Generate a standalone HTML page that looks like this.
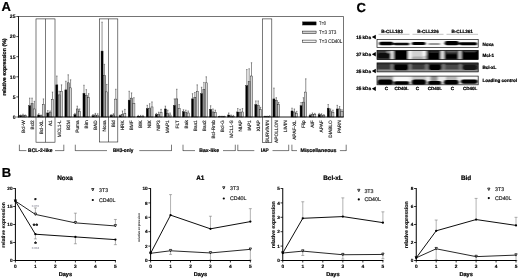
<!DOCTYPE html>
<html lang="en"><head><meta charset="utf-8"><title>Figure</title>
<style>
html,body{margin:0;padding:0;background:#fff;}
body{width:520px;height:280px;overflow:hidden;}
svg{display:block;font-family:'Liberation Sans', sans-serif;text-rendering:geometricPrecision;}
</style></head>
<body>
<svg width="520" height="280" viewBox="0 0 520 280" font-family="&quot;Liberation Sans&quot;, sans-serif">
<defs>
<filter id="blur1" x="-5%" y="-20%" width="110%" height="140%"><feGaussianBlur stdDeviation="1.0 0.75"/></filter>
</defs>
<rect x="0" y="0" width="520" height="280" fill="#fff"/>
<g>
<g id="panelA">
<text x="1.60" y="11.30" font-size="13" text-anchor="start" fill="#000" font-weight="bold" stroke="#000" stroke-width="0.22">A</text>
<rect x="36.00" y="18.90" width="19.00" height="123.30" fill="#fff" stroke="#222" stroke-width="0.6"/>
<line x1="45.50" y1="18.90" x2="45.50" y2="142.20" stroke="#222" stroke-width="0.6"/>
<rect x="99.60" y="18.90" width="18.20" height="123.10" fill="#fff" stroke="#222" stroke-width="0.6"/>
<line x1="108.50" y1="18.90" x2="108.50" y2="142.00" stroke="#222" stroke-width="0.6"/>
<rect x="262.30" y="18.90" width="9.50" height="123.40" fill="#fff" stroke="#222" stroke-width="0.6"/>
<line x1="18.50" y1="16.50" x2="343.50" y2="16.50" stroke="#000" stroke-width="0.55"/>
<line x1="343.50" y1="16.50" x2="343.50" y2="117.00" stroke="#000" stroke-width="0.55"/>
<line x1="20.65" y1="115.79" x2="20.65" y2="114.99" stroke="#333" stroke-width="0.55"/>
<line x1="19.95" y1="114.99" x2="21.35" y2="114.99" stroke="#333" stroke-width="0.5"/>
<rect x="19.62" y="115.79" width="2.05" height="1.21" fill="#000" stroke="#111" stroke-width="0.4"/>
<line x1="23.00" y1="115.39" x2="23.00" y2="114.19" stroke="#333" stroke-width="0.55"/>
<line x1="22.30" y1="114.19" x2="23.70" y2="114.19" stroke="#333" stroke-width="0.5"/>
<rect x="21.98" y="115.39" width="2.05" height="1.61" fill="#989898" stroke="#111" stroke-width="0.4"/>
<line x1="25.35" y1="115.79" x2="25.35" y2="114.99" stroke="#333" stroke-width="0.55"/>
<line x1="24.65" y1="114.99" x2="26.05" y2="114.99" stroke="#333" stroke-width="0.5"/>
<rect x="24.32" y="115.79" width="2.05" height="1.21" fill="#d4d4d4" stroke="#111" stroke-width="0.4"/>
<line x1="29.70" y1="105.74" x2="29.70" y2="98.11" stroke="#333" stroke-width="0.55"/>
<line x1="29.00" y1="98.11" x2="30.40" y2="98.11" stroke="#333" stroke-width="0.5"/>
<rect x="28.67" y="105.74" width="2.05" height="11.26" fill="#000" stroke="#111" stroke-width="0.4"/>
<line x1="32.05" y1="103.73" x2="32.05" y2="98.11" stroke="#333" stroke-width="0.55"/>
<line x1="31.35" y1="98.11" x2="32.75" y2="98.11" stroke="#333" stroke-width="0.5"/>
<rect x="31.02" y="103.73" width="2.05" height="13.27" fill="#989898" stroke="#111" stroke-width="0.4"/>
<line x1="34.40" y1="108.96" x2="34.40" y2="101.32" stroke="#333" stroke-width="0.55"/>
<line x1="33.70" y1="101.32" x2="35.10" y2="101.32" stroke="#333" stroke-width="0.5"/>
<rect x="33.37" y="108.96" width="2.05" height="8.04" fill="#d4d4d4" stroke="#111" stroke-width="0.4"/>
<line x1="38.74" y1="114.99" x2="38.74" y2="113.78" stroke="#333" stroke-width="0.55"/>
<line x1="38.04" y1="113.78" x2="39.44" y2="113.78" stroke="#333" stroke-width="0.5"/>
<rect x="37.72" y="114.99" width="2.05" height="2.01" fill="#000" stroke="#111" stroke-width="0.4"/>
<line x1="41.09" y1="115.79" x2="41.09" y2="114.99" stroke="#333" stroke-width="0.55"/>
<line x1="40.39" y1="114.99" x2="41.79" y2="114.99" stroke="#333" stroke-width="0.5"/>
<rect x="40.07" y="115.79" width="2.05" height="1.21" fill="#989898" stroke="#111" stroke-width="0.4"/>
<line x1="43.44" y1="104.54" x2="43.44" y2="98.91" stroke="#333" stroke-width="0.55"/>
<line x1="42.74" y1="98.91" x2="44.14" y2="98.91" stroke="#333" stroke-width="0.5"/>
<rect x="42.42" y="104.54" width="2.05" height="12.46" fill="#d4d4d4" stroke="#111" stroke-width="0.4"/>
<line x1="47.79" y1="112.98" x2="47.79" y2="110.57" stroke="#333" stroke-width="0.55"/>
<line x1="47.09" y1="110.57" x2="48.49" y2="110.57" stroke="#333" stroke-width="0.5"/>
<rect x="46.76" y="112.98" width="2.05" height="4.02" fill="#000" stroke="#111" stroke-width="0.4"/>
<line x1="50.14" y1="112.58" x2="50.14" y2="110.97" stroke="#333" stroke-width="0.55"/>
<line x1="49.44" y1="110.97" x2="50.84" y2="110.97" stroke="#333" stroke-width="0.5"/>
<rect x="49.11" y="112.58" width="2.05" height="4.42" fill="#989898" stroke="#111" stroke-width="0.4"/>
<line x1="52.49" y1="99.31" x2="52.49" y2="92.08" stroke="#333" stroke-width="0.55"/>
<line x1="51.79" y1="92.08" x2="53.19" y2="92.08" stroke="#333" stroke-width="0.5"/>
<rect x="51.46" y="99.31" width="2.05" height="17.69" fill="#d4d4d4" stroke="#111" stroke-width="0.4"/>
<line x1="56.83" y1="84.84" x2="56.83" y2="76.00" stroke="#333" stroke-width="0.55"/>
<line x1="56.13" y1="76.00" x2="57.53" y2="76.00" stroke="#333" stroke-width="0.5"/>
<rect x="55.81" y="84.84" width="2.05" height="32.16" fill="#000" stroke="#111" stroke-width="0.4"/>
<line x1="59.18" y1="94.89" x2="59.18" y2="91.27" stroke="#333" stroke-width="0.55"/>
<line x1="58.48" y1="91.27" x2="59.88" y2="91.27" stroke="#333" stroke-width="0.5"/>
<rect x="58.16" y="94.89" width="2.05" height="22.11" fill="#989898" stroke="#111" stroke-width="0.4"/>
<line x1="61.53" y1="91.27" x2="61.53" y2="84.84" stroke="#333" stroke-width="0.55"/>
<line x1="60.83" y1="84.84" x2="62.23" y2="84.84" stroke="#333" stroke-width="0.5"/>
<rect x="60.51" y="91.27" width="2.05" height="25.73" fill="#d4d4d4" stroke="#111" stroke-width="0.4"/>
<line x1="65.88" y1="89.87" x2="65.88" y2="81.22" stroke="#333" stroke-width="0.55"/>
<line x1="65.18" y1="81.22" x2="66.58" y2="81.22" stroke="#333" stroke-width="0.5"/>
<rect x="64.85" y="89.87" width="2.05" height="27.13" fill="#000" stroke="#111" stroke-width="0.4"/>
<line x1="68.23" y1="82.83" x2="68.23" y2="74.79" stroke="#333" stroke-width="0.55"/>
<line x1="67.53" y1="74.79" x2="68.93" y2="74.79" stroke="#333" stroke-width="0.5"/>
<rect x="67.20" y="82.83" width="2.05" height="34.17" fill="#989898" stroke="#111" stroke-width="0.4"/>
<line x1="70.58" y1="87.86" x2="70.58" y2="79.81" stroke="#333" stroke-width="0.55"/>
<line x1="69.88" y1="79.81" x2="71.28" y2="79.81" stroke="#333" stroke-width="0.5"/>
<rect x="69.55" y="87.86" width="2.05" height="29.14" fill="#d4d4d4" stroke="#111" stroke-width="0.4"/>
<line x1="74.93" y1="114.59" x2="74.93" y2="113.38" stroke="#333" stroke-width="0.55"/>
<line x1="74.23" y1="113.38" x2="75.63" y2="113.38" stroke="#333" stroke-width="0.5"/>
<rect x="73.90" y="114.59" width="2.05" height="2.41" fill="#000" stroke="#111" stroke-width="0.4"/>
<line x1="77.28" y1="108.96" x2="77.28" y2="106.15" stroke="#333" stroke-width="0.55"/>
<line x1="76.58" y1="106.15" x2="77.98" y2="106.15" stroke="#333" stroke-width="0.5"/>
<rect x="76.25" y="108.96" width="2.05" height="8.04" fill="#989898" stroke="#111" stroke-width="0.4"/>
<line x1="79.63" y1="111.37" x2="79.63" y2="108.96" stroke="#333" stroke-width="0.55"/>
<line x1="78.93" y1="108.96" x2="80.33" y2="108.96" stroke="#333" stroke-width="0.5"/>
<rect x="78.60" y="111.37" width="2.05" height="5.63" fill="#d4d4d4" stroke="#111" stroke-width="0.4"/>
<line x1="83.97" y1="93.28" x2="83.97" y2="85.24" stroke="#333" stroke-width="0.55"/>
<line x1="83.27" y1="85.24" x2="84.67" y2="85.24" stroke="#333" stroke-width="0.5"/>
<rect x="82.95" y="93.28" width="2.05" height="23.72" fill="#000" stroke="#111" stroke-width="0.4"/>
<line x1="86.32" y1="95.69" x2="86.32" y2="89.66" stroke="#333" stroke-width="0.55"/>
<line x1="85.62" y1="89.66" x2="87.02" y2="89.66" stroke="#333" stroke-width="0.5"/>
<rect x="85.30" y="95.69" width="2.05" height="21.31" fill="#989898" stroke="#111" stroke-width="0.4"/>
<line x1="88.67" y1="97.70" x2="88.67" y2="93.68" stroke="#333" stroke-width="0.55"/>
<line x1="87.97" y1="93.68" x2="89.37" y2="93.68" stroke="#333" stroke-width="0.5"/>
<rect x="87.65" y="97.70" width="2.05" height="19.30" fill="#d4d4d4" stroke="#111" stroke-width="0.4"/>
<line x1="93.02" y1="115.79" x2="93.02" y2="114.59" stroke="#333" stroke-width="0.55"/>
<line x1="92.32" y1="114.59" x2="93.72" y2="114.59" stroke="#333" stroke-width="0.5"/>
<rect x="91.99" y="115.79" width="2.05" height="1.21" fill="#000" stroke="#111" stroke-width="0.4"/>
<line x1="95.37" y1="114.99" x2="95.37" y2="113.38" stroke="#333" stroke-width="0.55"/>
<line x1="94.67" y1="113.38" x2="96.07" y2="113.38" stroke="#333" stroke-width="0.5"/>
<rect x="94.34" y="114.99" width="2.05" height="2.01" fill="#989898" stroke="#111" stroke-width="0.4"/>
<line x1="97.72" y1="115.39" x2="97.72" y2="113.78" stroke="#333" stroke-width="0.55"/>
<line x1="97.02" y1="113.78" x2="98.42" y2="113.78" stroke="#333" stroke-width="0.5"/>
<rect x="96.69" y="115.39" width="2.05" height="1.61" fill="#d4d4d4" stroke="#111" stroke-width="0.4"/>
<line x1="102.06" y1="51.07" x2="102.06" y2="22.13" stroke="#333" stroke-width="0.55"/>
<line x1="101.36" y1="22.13" x2="102.76" y2="22.13" stroke="#333" stroke-width="0.5"/>
<rect x="101.04" y="51.07" width="2.05" height="65.93" fill="#000" stroke="#111" stroke-width="0.4"/>
<line x1="104.41" y1="75.59" x2="104.41" y2="64.34" stroke="#333" stroke-width="0.55"/>
<line x1="103.71" y1="64.34" x2="105.11" y2="64.34" stroke="#333" stroke-width="0.5"/>
<rect x="103.39" y="75.59" width="2.05" height="41.41" fill="#989898" stroke="#111" stroke-width="0.4"/>
<line x1="106.76" y1="91.88" x2="106.76" y2="84.44" stroke="#333" stroke-width="0.55"/>
<line x1="106.06" y1="84.44" x2="107.46" y2="84.44" stroke="#333" stroke-width="0.5"/>
<rect x="105.74" y="91.88" width="2.05" height="25.12" fill="#d4d4d4" stroke="#111" stroke-width="0.4"/>
<line x1="111.11" y1="115.39" x2="111.11" y2="114.59" stroke="#333" stroke-width="0.55"/>
<line x1="110.41" y1="114.59" x2="111.81" y2="114.59" stroke="#333" stroke-width="0.5"/>
<rect x="110.08" y="115.39" width="2.05" height="1.61" fill="#000" stroke="#111" stroke-width="0.4"/>
<line x1="113.46" y1="114.99" x2="113.46" y2="113.78" stroke="#333" stroke-width="0.55"/>
<line x1="112.76" y1="113.78" x2="114.16" y2="113.78" stroke="#333" stroke-width="0.5"/>
<rect x="112.43" y="114.99" width="2.05" height="2.01" fill="#989898" stroke="#111" stroke-width="0.4"/>
<line x1="115.81" y1="99.11" x2="115.81" y2="89.26" stroke="#333" stroke-width="0.55"/>
<line x1="115.11" y1="89.26" x2="116.51" y2="89.26" stroke="#333" stroke-width="0.5"/>
<rect x="114.78" y="99.11" width="2.05" height="17.89" fill="#d4d4d4" stroke="#111" stroke-width="0.4"/>
<line x1="120.16" y1="115.79" x2="120.16" y2="114.99" stroke="#333" stroke-width="0.55"/>
<line x1="119.46" y1="114.99" x2="120.86" y2="114.99" stroke="#333" stroke-width="0.5"/>
<rect x="119.13" y="115.79" width="2.05" height="1.21" fill="#000" stroke="#111" stroke-width="0.4"/>
<line x1="122.51" y1="114.59" x2="122.51" y2="110.97" stroke="#333" stroke-width="0.55"/>
<line x1="121.81" y1="110.97" x2="123.21" y2="110.97" stroke="#333" stroke-width="0.5"/>
<rect x="121.48" y="114.59" width="2.05" height="2.41" fill="#989898" stroke="#111" stroke-width="0.4"/>
<line x1="124.86" y1="113.78" x2="124.86" y2="109.36" stroke="#333" stroke-width="0.55"/>
<line x1="124.16" y1="109.36" x2="125.56" y2="109.36" stroke="#333" stroke-width="0.5"/>
<rect x="123.83" y="113.78" width="2.05" height="3.22" fill="#d4d4d4" stroke="#111" stroke-width="0.4"/>
<line x1="129.20" y1="100.12" x2="129.20" y2="91.27" stroke="#333" stroke-width="0.55"/>
<line x1="128.50" y1="91.27" x2="129.90" y2="91.27" stroke="#333" stroke-width="0.5"/>
<rect x="128.18" y="100.12" width="2.05" height="16.88" fill="#000" stroke="#111" stroke-width="0.4"/>
<line x1="131.55" y1="98.11" x2="131.55" y2="92.88" stroke="#333" stroke-width="0.55"/>
<line x1="130.85" y1="92.88" x2="132.25" y2="92.88" stroke="#333" stroke-width="0.5"/>
<rect x="130.53" y="98.11" width="2.05" height="18.89" fill="#989898" stroke="#111" stroke-width="0.4"/>
<line x1="133.90" y1="103.73" x2="133.90" y2="97.70" stroke="#333" stroke-width="0.55"/>
<line x1="133.20" y1="97.70" x2="134.60" y2="97.70" stroke="#333" stroke-width="0.5"/>
<rect x="132.88" y="103.73" width="2.05" height="13.27" fill="#d4d4d4" stroke="#111" stroke-width="0.4"/>
<line x1="138.25" y1="116.20" x2="138.25" y2="115.39" stroke="#333" stroke-width="0.55"/>
<line x1="137.55" y1="115.39" x2="138.95" y2="115.39" stroke="#333" stroke-width="0.5"/>
<rect x="137.22" y="116.20" width="2.05" height="0.80" fill="#000" stroke="#111" stroke-width="0.4"/>
<line x1="140.60" y1="116.20" x2="140.60" y2="115.39" stroke="#333" stroke-width="0.55"/>
<line x1="139.90" y1="115.39" x2="141.30" y2="115.39" stroke="#333" stroke-width="0.5"/>
<rect x="139.57" y="116.20" width="2.05" height="0.80" fill="#989898" stroke="#111" stroke-width="0.4"/>
<line x1="142.95" y1="116.20" x2="142.95" y2="115.39" stroke="#333" stroke-width="0.55"/>
<line x1="142.25" y1="115.39" x2="143.65" y2="115.39" stroke="#333" stroke-width="0.5"/>
<rect x="141.92" y="116.20" width="2.05" height="0.80" fill="#d4d4d4" stroke="#111" stroke-width="0.4"/>
<line x1="147.29" y1="108.56" x2="147.29" y2="105.34" stroke="#333" stroke-width="0.55"/>
<line x1="146.59" y1="105.34" x2="147.99" y2="105.34" stroke="#333" stroke-width="0.5"/>
<rect x="146.27" y="108.56" width="2.05" height="8.44" fill="#000" stroke="#111" stroke-width="0.4"/>
<line x1="149.64" y1="108.16" x2="149.64" y2="103.73" stroke="#333" stroke-width="0.55"/>
<line x1="148.94" y1="103.73" x2="150.34" y2="103.73" stroke="#333" stroke-width="0.5"/>
<rect x="148.62" y="108.16" width="2.05" height="8.84" fill="#989898" stroke="#111" stroke-width="0.4"/>
<line x1="151.99" y1="106.95" x2="151.99" y2="101.92" stroke="#333" stroke-width="0.55"/>
<line x1="151.29" y1="101.92" x2="152.69" y2="101.92" stroke="#333" stroke-width="0.5"/>
<rect x="150.97" y="106.95" width="2.05" height="10.05" fill="#d4d4d4" stroke="#111" stroke-width="0.4"/>
<line x1="156.34" y1="114.59" x2="156.34" y2="113.38" stroke="#333" stroke-width="0.55"/>
<line x1="155.64" y1="113.38" x2="157.04" y2="113.38" stroke="#333" stroke-width="0.5"/>
<rect x="155.31" y="114.59" width="2.05" height="2.41" fill="#000" stroke="#111" stroke-width="0.4"/>
<line x1="158.69" y1="114.19" x2="158.69" y2="112.18" stroke="#333" stroke-width="0.55"/>
<line x1="157.99" y1="112.18" x2="159.39" y2="112.18" stroke="#333" stroke-width="0.5"/>
<rect x="157.66" y="114.19" width="2.05" height="2.81" fill="#989898" stroke="#111" stroke-width="0.4"/>
<line x1="161.04" y1="112.58" x2="161.04" y2="109.36" stroke="#333" stroke-width="0.55"/>
<line x1="160.34" y1="109.36" x2="161.74" y2="109.36" stroke="#333" stroke-width="0.5"/>
<rect x="160.01" y="112.58" width="2.05" height="4.42" fill="#d4d4d4" stroke="#111" stroke-width="0.4"/>
<line x1="165.39" y1="108.96" x2="165.39" y2="106.15" stroke="#333" stroke-width="0.55"/>
<line x1="164.69" y1="106.15" x2="166.09" y2="106.15" stroke="#333" stroke-width="0.5"/>
<rect x="164.36" y="108.96" width="2.05" height="8.04" fill="#000" stroke="#111" stroke-width="0.4"/>
<line x1="167.74" y1="113.38" x2="167.74" y2="110.17" stroke="#333" stroke-width="0.55"/>
<line x1="167.04" y1="110.17" x2="168.44" y2="110.17" stroke="#333" stroke-width="0.5"/>
<rect x="166.71" y="113.38" width="2.05" height="3.62" fill="#989898" stroke="#111" stroke-width="0.4"/>
<line x1="170.09" y1="114.99" x2="170.09" y2="112.98" stroke="#333" stroke-width="0.55"/>
<line x1="169.39" y1="112.98" x2="170.79" y2="112.98" stroke="#333" stroke-width="0.5"/>
<rect x="169.06" y="114.99" width="2.05" height="2.01" fill="#d4d4d4" stroke="#111" stroke-width="0.4"/>
<line x1="174.43" y1="105.34" x2="174.43" y2="98.91" stroke="#333" stroke-width="0.55"/>
<line x1="173.73" y1="98.91" x2="175.13" y2="98.91" stroke="#333" stroke-width="0.5"/>
<rect x="173.41" y="105.34" width="2.05" height="11.66" fill="#000" stroke="#111" stroke-width="0.4"/>
<line x1="176.78" y1="98.91" x2="176.78" y2="89.26" stroke="#333" stroke-width="0.55"/>
<line x1="176.08" y1="89.26" x2="177.48" y2="89.26" stroke="#333" stroke-width="0.5"/>
<rect x="175.76" y="98.91" width="2.05" height="18.09" fill="#989898" stroke="#111" stroke-width="0.4"/>
<line x1="179.13" y1="108.56" x2="179.13" y2="104.54" stroke="#333" stroke-width="0.55"/>
<line x1="178.43" y1="104.54" x2="179.83" y2="104.54" stroke="#333" stroke-width="0.5"/>
<rect x="178.11" y="108.56" width="2.05" height="8.44" fill="#d4d4d4" stroke="#111" stroke-width="0.4"/>
<line x1="183.48" y1="111.77" x2="183.48" y2="109.76" stroke="#333" stroke-width="0.55"/>
<line x1="182.78" y1="109.76" x2="184.18" y2="109.76" stroke="#333" stroke-width="0.5"/>
<rect x="182.45" y="111.77" width="2.05" height="5.23" fill="#000" stroke="#111" stroke-width="0.4"/>
<line x1="185.83" y1="112.58" x2="185.83" y2="110.17" stroke="#333" stroke-width="0.55"/>
<line x1="185.13" y1="110.17" x2="186.53" y2="110.17" stroke="#333" stroke-width="0.5"/>
<rect x="184.80" y="112.58" width="2.05" height="4.42" fill="#989898" stroke="#111" stroke-width="0.4"/>
<line x1="188.18" y1="112.98" x2="188.18" y2="110.97" stroke="#333" stroke-width="0.55"/>
<line x1="187.48" y1="110.97" x2="188.88" y2="110.97" stroke="#333" stroke-width="0.5"/>
<rect x="187.15" y="112.98" width="2.05" height="4.02" fill="#d4d4d4" stroke="#111" stroke-width="0.4"/>
<line x1="192.52" y1="98.91" x2="192.52" y2="93.68" stroke="#333" stroke-width="0.55"/>
<line x1="191.82" y1="93.68" x2="193.22" y2="93.68" stroke="#333" stroke-width="0.5"/>
<rect x="191.50" y="98.91" width="2.05" height="18.09" fill="#000" stroke="#111" stroke-width="0.4"/>
<line x1="194.87" y1="97.30" x2="194.87" y2="92.48" stroke="#333" stroke-width="0.55"/>
<line x1="194.17" y1="92.48" x2="195.57" y2="92.48" stroke="#333" stroke-width="0.5"/>
<rect x="193.85" y="97.30" width="2.05" height="19.70" fill="#989898" stroke="#111" stroke-width="0.4"/>
<line x1="197.22" y1="91.27" x2="197.22" y2="84.84" stroke="#333" stroke-width="0.55"/>
<line x1="196.52" y1="84.84" x2="197.92" y2="84.84" stroke="#333" stroke-width="0.5"/>
<rect x="196.20" y="91.27" width="2.05" height="25.73" fill="#d4d4d4" stroke="#111" stroke-width="0.4"/>
<line x1="201.57" y1="93.68" x2="201.57" y2="87.25" stroke="#333" stroke-width="0.55"/>
<line x1="200.87" y1="87.25" x2="202.27" y2="87.25" stroke="#333" stroke-width="0.5"/>
<rect x="200.54" y="93.68" width="2.05" height="23.32" fill="#000" stroke="#111" stroke-width="0.4"/>
<line x1="203.92" y1="89.26" x2="203.92" y2="82.43" stroke="#333" stroke-width="0.55"/>
<line x1="203.22" y1="82.43" x2="204.62" y2="82.43" stroke="#333" stroke-width="0.5"/>
<rect x="202.89" y="89.26" width="2.05" height="27.74" fill="#989898" stroke="#111" stroke-width="0.4"/>
<line x1="206.27" y1="82.83" x2="206.27" y2="76.80" stroke="#333" stroke-width="0.55"/>
<line x1="205.57" y1="76.80" x2="206.97" y2="76.80" stroke="#333" stroke-width="0.5"/>
<rect x="205.24" y="82.83" width="2.05" height="34.17" fill="#d4d4d4" stroke="#111" stroke-width="0.4"/>
<line x1="210.62" y1="109.36" x2="210.62" y2="105.74" stroke="#333" stroke-width="0.55"/>
<line x1="209.92" y1="105.74" x2="211.32" y2="105.74" stroke="#333" stroke-width="0.5"/>
<rect x="209.59" y="109.36" width="2.05" height="7.64" fill="#000" stroke="#111" stroke-width="0.4"/>
<line x1="212.97" y1="111.97" x2="212.97" y2="108.96" stroke="#333" stroke-width="0.55"/>
<line x1="212.27" y1="108.96" x2="213.67" y2="108.96" stroke="#333" stroke-width="0.5"/>
<rect x="211.94" y="111.97" width="2.05" height="5.02" fill="#989898" stroke="#111" stroke-width="0.4"/>
<line x1="215.32" y1="112.58" x2="215.32" y2="110.17" stroke="#333" stroke-width="0.55"/>
<line x1="214.62" y1="110.17" x2="216.02" y2="110.17" stroke="#333" stroke-width="0.5"/>
<rect x="214.29" y="112.58" width="2.05" height="4.42" fill="#d4d4d4" stroke="#111" stroke-width="0.4"/>
<line x1="219.66" y1="116.60" x2="219.66" y2="116.20" stroke="#333" stroke-width="0.55"/>
<line x1="218.96" y1="116.20" x2="220.36" y2="116.20" stroke="#333" stroke-width="0.5"/>
<rect x="218.64" y="116.60" width="2.05" height="0.40" fill="#000" stroke="#111" stroke-width="0.4"/>
<line x1="222.01" y1="116.60" x2="222.01" y2="116.20" stroke="#333" stroke-width="0.55"/>
<line x1="221.31" y1="116.20" x2="222.71" y2="116.20" stroke="#333" stroke-width="0.5"/>
<rect x="220.99" y="116.60" width="2.05" height="0.40" fill="#989898" stroke="#111" stroke-width="0.4"/>
<line x1="224.36" y1="116.60" x2="224.36" y2="116.20" stroke="#333" stroke-width="0.55"/>
<line x1="223.66" y1="116.20" x2="225.06" y2="116.20" stroke="#333" stroke-width="0.5"/>
<rect x="223.34" y="116.60" width="2.05" height="0.40" fill="#d4d4d4" stroke="#111" stroke-width="0.4"/>
<line x1="228.71" y1="114.99" x2="228.71" y2="112.98" stroke="#333" stroke-width="0.55"/>
<line x1="228.01" y1="112.98" x2="229.41" y2="112.98" stroke="#333" stroke-width="0.5"/>
<rect x="227.68" y="114.99" width="2.05" height="2.01" fill="#000" stroke="#111" stroke-width="0.4"/>
<line x1="231.06" y1="116.00" x2="231.06" y2="114.99" stroke="#333" stroke-width="0.55"/>
<line x1="230.36" y1="114.99" x2="231.76" y2="114.99" stroke="#333" stroke-width="0.5"/>
<rect x="230.03" y="116.00" width="2.05" height="1.00" fill="#989898" stroke="#111" stroke-width="0.4"/>
<line x1="233.41" y1="116.20" x2="233.41" y2="115.39" stroke="#333" stroke-width="0.55"/>
<line x1="232.71" y1="115.39" x2="234.11" y2="115.39" stroke="#333" stroke-width="0.5"/>
<rect x="232.38" y="116.20" width="2.05" height="0.80" fill="#d4d4d4" stroke="#111" stroke-width="0.4"/>
<line x1="237.75" y1="111.97" x2="237.75" y2="108.56" stroke="#333" stroke-width="0.55"/>
<line x1="237.05" y1="108.56" x2="238.45" y2="108.56" stroke="#333" stroke-width="0.5"/>
<rect x="236.73" y="111.97" width="2.05" height="5.02" fill="#000" stroke="#111" stroke-width="0.4"/>
<line x1="240.10" y1="112.58" x2="240.10" y2="109.36" stroke="#333" stroke-width="0.55"/>
<line x1="239.40" y1="109.36" x2="240.80" y2="109.36" stroke="#333" stroke-width="0.5"/>
<rect x="239.08" y="112.58" width="2.05" height="4.42" fill="#989898" stroke="#111" stroke-width="0.4"/>
<line x1="242.45" y1="111.97" x2="242.45" y2="108.56" stroke="#333" stroke-width="0.55"/>
<line x1="241.75" y1="108.56" x2="243.15" y2="108.56" stroke="#333" stroke-width="0.5"/>
<rect x="241.43" y="111.97" width="2.05" height="5.02" fill="#d4d4d4" stroke="#111" stroke-width="0.4"/>
<line x1="246.80" y1="85.64" x2="246.80" y2="69.56" stroke="#333" stroke-width="0.55"/>
<line x1="246.10" y1="69.56" x2="247.50" y2="69.56" stroke="#333" stroke-width="0.5"/>
<rect x="245.77" y="85.64" width="2.05" height="31.36" fill="#000" stroke="#111" stroke-width="0.4"/>
<line x1="249.15" y1="81.62" x2="249.15" y2="68.76" stroke="#333" stroke-width="0.55"/>
<line x1="248.45" y1="68.76" x2="249.85" y2="68.76" stroke="#333" stroke-width="0.5"/>
<rect x="248.12" y="81.62" width="2.05" height="35.38" fill="#989898" stroke="#111" stroke-width="0.4"/>
<line x1="251.50" y1="76.00" x2="251.50" y2="62.73" stroke="#333" stroke-width="0.55"/>
<line x1="250.80" y1="62.73" x2="252.20" y2="62.73" stroke="#333" stroke-width="0.5"/>
<rect x="250.47" y="76.00" width="2.05" height="41.00" fill="#d4d4d4" stroke="#111" stroke-width="0.4"/>
<line x1="255.85" y1="104.54" x2="255.85" y2="100.92" stroke="#333" stroke-width="0.55"/>
<line x1="255.15" y1="100.92" x2="256.55" y2="100.92" stroke="#333" stroke-width="0.5"/>
<rect x="254.82" y="104.54" width="2.05" height="12.46" fill="#000" stroke="#111" stroke-width="0.4"/>
<line x1="258.20" y1="105.74" x2="258.20" y2="100.92" stroke="#333" stroke-width="0.55"/>
<line x1="257.50" y1="100.92" x2="258.90" y2="100.92" stroke="#333" stroke-width="0.5"/>
<rect x="257.17" y="105.74" width="2.05" height="11.26" fill="#989898" stroke="#111" stroke-width="0.4"/>
<line x1="260.55" y1="109.76" x2="260.55" y2="107.35" stroke="#333" stroke-width="0.55"/>
<line x1="259.85" y1="107.35" x2="261.25" y2="107.35" stroke="#333" stroke-width="0.5"/>
<rect x="259.52" y="109.76" width="2.05" height="7.24" fill="#d4d4d4" stroke="#111" stroke-width="0.4"/>
<line x1="264.89" y1="116.60" x2="264.89" y2="116.20" stroke="#333" stroke-width="0.55"/>
<line x1="264.19" y1="116.20" x2="265.59" y2="116.20" stroke="#333" stroke-width="0.5"/>
<rect x="263.87" y="116.60" width="2.05" height="0.40" fill="#000" stroke="#111" stroke-width="0.4"/>
<line x1="267.24" y1="116.60" x2="267.24" y2="116.20" stroke="#333" stroke-width="0.55"/>
<line x1="266.54" y1="116.20" x2="267.94" y2="116.20" stroke="#333" stroke-width="0.5"/>
<rect x="266.22" y="116.60" width="2.05" height="0.40" fill="#989898" stroke="#111" stroke-width="0.4"/>
<line x1="269.59" y1="116.40" x2="269.59" y2="115.79" stroke="#333" stroke-width="0.55"/>
<line x1="268.89" y1="115.79" x2="270.29" y2="115.79" stroke="#333" stroke-width="0.5"/>
<rect x="268.57" y="116.40" width="2.05" height="0.60" fill="#d4d4d4" stroke="#111" stroke-width="0.4"/>
<line x1="273.94" y1="98.91" x2="273.94" y2="88.06" stroke="#333" stroke-width="0.55"/>
<line x1="273.24" y1="88.06" x2="274.64" y2="88.06" stroke="#333" stroke-width="0.5"/>
<rect x="272.91" y="98.91" width="2.05" height="18.09" fill="#000" stroke="#111" stroke-width="0.4"/>
<line x1="276.29" y1="100.52" x2="276.29" y2="97.70" stroke="#333" stroke-width="0.55"/>
<line x1="275.59" y1="97.70" x2="276.99" y2="97.70" stroke="#333" stroke-width="0.5"/>
<rect x="275.26" y="100.52" width="2.05" height="16.48" fill="#989898" stroke="#111" stroke-width="0.4"/>
<line x1="278.64" y1="104.54" x2="278.64" y2="102.53" stroke="#333" stroke-width="0.55"/>
<line x1="277.94" y1="102.53" x2="279.34" y2="102.53" stroke="#333" stroke-width="0.5"/>
<rect x="277.61" y="104.54" width="2.05" height="12.46" fill="#d4d4d4" stroke="#111" stroke-width="0.4"/>
<line x1="292.03" y1="110.97" x2="292.03" y2="108.16" stroke="#333" stroke-width="0.55"/>
<line x1="291.33" y1="108.16" x2="292.73" y2="108.16" stroke="#333" stroke-width="0.5"/>
<rect x="291.00" y="110.97" width="2.05" height="6.03" fill="#000" stroke="#111" stroke-width="0.4"/>
<line x1="294.38" y1="111.97" x2="294.38" y2="108.96" stroke="#333" stroke-width="0.55"/>
<line x1="293.68" y1="108.96" x2="295.08" y2="108.96" stroke="#333" stroke-width="0.5"/>
<rect x="293.36" y="111.97" width="2.05" height="5.02" fill="#989898" stroke="#111" stroke-width="0.4"/>
<line x1="296.73" y1="113.38" x2="296.73" y2="111.37" stroke="#333" stroke-width="0.55"/>
<line x1="296.03" y1="111.37" x2="297.43" y2="111.37" stroke="#333" stroke-width="0.5"/>
<rect x="295.70" y="113.38" width="2.05" height="3.62" fill="#d4d4d4" stroke="#111" stroke-width="0.4"/>
<line x1="301.08" y1="105.74" x2="301.08" y2="102.53" stroke="#333" stroke-width="0.55"/>
<line x1="300.38" y1="102.53" x2="301.78" y2="102.53" stroke="#333" stroke-width="0.5"/>
<rect x="300.05" y="105.74" width="2.05" height="11.26" fill="#000" stroke="#111" stroke-width="0.4"/>
<line x1="303.43" y1="102.13" x2="303.43" y2="97.70" stroke="#333" stroke-width="0.55"/>
<line x1="302.73" y1="97.70" x2="304.13" y2="97.70" stroke="#333" stroke-width="0.5"/>
<rect x="302.40" y="102.13" width="2.05" height="14.87" fill="#989898" stroke="#111" stroke-width="0.4"/>
<line x1="305.78" y1="92.08" x2="305.78" y2="78.81" stroke="#333" stroke-width="0.55"/>
<line x1="305.08" y1="78.81" x2="306.48" y2="78.81" stroke="#333" stroke-width="0.5"/>
<rect x="304.75" y="92.08" width="2.05" height="24.92" fill="#d4d4d4" stroke="#111" stroke-width="0.4"/>
<line x1="310.12" y1="115.39" x2="310.12" y2="114.19" stroke="#333" stroke-width="0.55"/>
<line x1="309.42" y1="114.19" x2="310.82" y2="114.19" stroke="#333" stroke-width="0.5"/>
<rect x="309.10" y="115.39" width="2.05" height="1.61" fill="#000" stroke="#111" stroke-width="0.4"/>
<line x1="312.47" y1="114.59" x2="312.47" y2="112.98" stroke="#333" stroke-width="0.55"/>
<line x1="311.77" y1="112.98" x2="313.17" y2="112.98" stroke="#333" stroke-width="0.5"/>
<rect x="311.45" y="114.59" width="2.05" height="2.41" fill="#989898" stroke="#111" stroke-width="0.4"/>
<line x1="314.82" y1="114.79" x2="314.82" y2="113.38" stroke="#333" stroke-width="0.55"/>
<line x1="314.12" y1="113.38" x2="315.52" y2="113.38" stroke="#333" stroke-width="0.5"/>
<rect x="313.80" y="114.79" width="2.05" height="2.21" fill="#d4d4d4" stroke="#111" stroke-width="0.4"/>
<line x1="319.17" y1="114.59" x2="319.17" y2="113.38" stroke="#333" stroke-width="0.55"/>
<line x1="318.47" y1="113.38" x2="319.87" y2="113.38" stroke="#333" stroke-width="0.5"/>
<rect x="318.14" y="114.59" width="2.05" height="2.41" fill="#000" stroke="#111" stroke-width="0.4"/>
<line x1="321.52" y1="114.99" x2="321.52" y2="113.78" stroke="#333" stroke-width="0.55"/>
<line x1="320.82" y1="113.78" x2="322.22" y2="113.78" stroke="#333" stroke-width="0.5"/>
<rect x="320.49" y="114.99" width="2.05" height="2.01" fill="#989898" stroke="#111" stroke-width="0.4"/>
<line x1="323.87" y1="115.79" x2="323.87" y2="114.59" stroke="#333" stroke-width="0.55"/>
<line x1="323.17" y1="114.59" x2="324.57" y2="114.59" stroke="#333" stroke-width="0.5"/>
<rect x="322.84" y="115.79" width="2.05" height="1.21" fill="#d4d4d4" stroke="#111" stroke-width="0.4"/>
<line x1="328.21" y1="108.16" x2="328.21" y2="104.54" stroke="#333" stroke-width="0.55"/>
<line x1="327.51" y1="104.54" x2="328.91" y2="104.54" stroke="#333" stroke-width="0.5"/>
<rect x="327.19" y="108.16" width="2.05" height="8.84" fill="#000" stroke="#111" stroke-width="0.4"/>
<line x1="330.56" y1="110.97" x2="330.56" y2="108.96" stroke="#333" stroke-width="0.55"/>
<line x1="329.86" y1="108.96" x2="331.26" y2="108.96" stroke="#333" stroke-width="0.5"/>
<rect x="329.54" y="110.97" width="2.05" height="6.03" fill="#989898" stroke="#111" stroke-width="0.4"/>
<line x1="332.91" y1="112.18" x2="332.91" y2="110.17" stroke="#333" stroke-width="0.55"/>
<line x1="332.21" y1="110.17" x2="333.61" y2="110.17" stroke="#333" stroke-width="0.5"/>
<rect x="331.89" y="112.18" width="2.05" height="4.82" fill="#d4d4d4" stroke="#111" stroke-width="0.4"/>
<line x1="337.26" y1="108.96" x2="337.26" y2="105.34" stroke="#333" stroke-width="0.55"/>
<line x1="336.56" y1="105.34" x2="337.96" y2="105.34" stroke="#333" stroke-width="0.5"/>
<rect x="336.23" y="108.96" width="2.05" height="8.04" fill="#000" stroke="#111" stroke-width="0.4"/>
<line x1="339.61" y1="108.96" x2="339.61" y2="106.55" stroke="#333" stroke-width="0.55"/>
<line x1="338.91" y1="106.55" x2="340.31" y2="106.55" stroke="#333" stroke-width="0.5"/>
<rect x="338.58" y="108.96" width="2.05" height="8.04" fill="#989898" stroke="#111" stroke-width="0.4"/>
<line x1="341.96" y1="111.37" x2="341.96" y2="109.76" stroke="#333" stroke-width="0.55"/>
<line x1="341.26" y1="109.76" x2="342.66" y2="109.76" stroke="#333" stroke-width="0.5"/>
<rect x="340.93" y="111.37" width="2.05" height="5.63" fill="#d4d4d4" stroke="#111" stroke-width="0.4"/>
<line x1="18.50" y1="16.20" x2="18.50" y2="117.40" stroke="#000" stroke-width="0.9"/>
<line x1="18.10" y1="117.00" x2="343.80" y2="117.00" stroke="#000" stroke-width="0.9"/>
<line x1="16.30" y1="117.00" x2="18.50" y2="117.00" stroke="#000" stroke-width="0.7"/>
<text x="15.50" y="118.80" font-size="5.1" text-anchor="end" fill="#000" font-weight="bold" stroke="#000" stroke-width="0.12">0</text>
<line x1="16.30" y1="96.90" x2="18.50" y2="96.90" stroke="#000" stroke-width="0.7"/>
<text x="15.50" y="98.70" font-size="5.1" text-anchor="end" fill="#000" font-weight="bold" stroke="#000" stroke-width="0.12">5</text>
<line x1="16.30" y1="76.80" x2="18.50" y2="76.80" stroke="#000" stroke-width="0.7"/>
<text x="15.50" y="78.60" font-size="5.1" text-anchor="end" fill="#000" font-weight="bold" stroke="#000" stroke-width="0.12">10</text>
<line x1="16.30" y1="56.70" x2="18.50" y2="56.70" stroke="#000" stroke-width="0.7"/>
<text x="15.50" y="58.50" font-size="5.1" text-anchor="end" fill="#000" font-weight="bold" stroke="#000" stroke-width="0.12">15</text>
<line x1="16.30" y1="36.60" x2="18.50" y2="36.60" stroke="#000" stroke-width="0.7"/>
<text x="15.50" y="38.40" font-size="5.1" text-anchor="end" fill="#000" font-weight="bold" stroke="#000" stroke-width="0.12">20</text>
<line x1="16.30" y1="16.50" x2="18.50" y2="16.50" stroke="#000" stroke-width="0.7"/>
<text x="15.50" y="18.30" font-size="5.1" text-anchor="end" fill="#000" font-weight="bold" stroke="#000" stroke-width="0.12">25</text>
<text x="6.00" y="67.00" font-size="5.25" text-anchor="middle" fill="#000" font-weight="bold" stroke="#000" stroke-width="0.22" transform="rotate(-90 6.00 67.00)">relative expression (%)</text>
<text x="24.75" y="120.20" font-size="4.8" text-anchor="end" fill="#111" stroke="#111" stroke-width="0.13" transform="rotate(-90 24.75 120.20)">Bcl-W</text>
<text x="33.80" y="120.20" font-size="4.8" text-anchor="end" fill="#111" stroke="#111" stroke-width="0.13" transform="rotate(-90 33.80 120.20)">Bcl2</text>
<text x="42.84" y="120.20" font-size="4.8" text-anchor="end" fill="#111" stroke="#111" stroke-width="0.13" transform="rotate(-90 42.84 120.20)">Bcl-XL</text>
<text x="51.89" y="120.20" font-size="4.8" text-anchor="end" fill="#111" stroke="#111" stroke-width="0.13" transform="rotate(-90 51.89 120.20)">A1</text>
<text x="60.93" y="120.20" font-size="4.8" text-anchor="end" fill="#111" stroke="#111" stroke-width="0.13" transform="rotate(-90 60.93 120.20)">MCL1-L</text>
<text x="69.98" y="120.20" font-size="4.8" text-anchor="end" fill="#111" stroke="#111" stroke-width="0.13" transform="rotate(-90 69.98 120.20)">B2M</text>
<text x="79.03" y="120.20" font-size="4.8" text-anchor="end" fill="#111" stroke="#111" stroke-width="0.13" transform="rotate(-90 79.03 120.20)">Puma</text>
<text x="88.07" y="120.20" font-size="4.8" text-anchor="end" fill="#111" stroke="#111" stroke-width="0.13" transform="rotate(-90 88.07 120.20)">Bim</text>
<text x="97.12" y="120.20" font-size="4.8" text-anchor="end" fill="#111" stroke="#111" stroke-width="0.13" transform="rotate(-90 97.12 120.20)">BAD</text>
<text x="106.16" y="120.20" font-size="4.8" text-anchor="end" fill="#111" stroke="#111" stroke-width="0.13" transform="rotate(-90 106.16 120.20)">Noxa</text>
<text x="115.21" y="120.20" font-size="4.8" text-anchor="end" fill="#111" stroke="#111" stroke-width="0.13" transform="rotate(-90 115.21 120.20)">Bid</text>
<text x="124.26" y="120.20" font-size="4.8" text-anchor="end" fill="#111" stroke="#111" stroke-width="0.13" transform="rotate(-90 124.26 120.20)">HRK</text>
<text x="133.30" y="120.20" font-size="4.8" text-anchor="end" fill="#111" stroke="#111" stroke-width="0.13" transform="rotate(-90 133.30 120.20)">BMF</text>
<text x="142.35" y="120.20" font-size="4.8" text-anchor="end" fill="#111" stroke="#111" stroke-width="0.13" transform="rotate(-90 142.35 120.20)">BIK</text>
<text x="151.39" y="120.20" font-size="4.8" text-anchor="end" fill="#111" stroke="#111" stroke-width="0.13" transform="rotate(-90 151.39 120.20)">NIX</text>
<text x="160.44" y="120.20" font-size="4.8" text-anchor="end" fill="#111" stroke="#111" stroke-width="0.13" transform="rotate(-90 160.44 120.20)">NIP3</text>
<text x="169.49" y="120.20" font-size="4.8" text-anchor="end" fill="#111" stroke="#111" stroke-width="0.13" transform="rotate(-90 169.49 120.20)">MAP1</text>
<text x="178.53" y="120.20" font-size="4.8" text-anchor="end" fill="#111" stroke="#111" stroke-width="0.13" transform="rotate(-90 178.53 120.20)">FLT</text>
<text x="187.58" y="120.20" font-size="4.8" text-anchor="end" fill="#111" stroke="#111" stroke-width="0.13" transform="rotate(-90 187.58 120.20)">Bak</text>
<text x="196.62" y="120.20" font-size="4.8" text-anchor="end" fill="#111" stroke="#111" stroke-width="0.13" transform="rotate(-90 196.62 120.20)">Bax1</text>
<text x="205.67" y="120.20" font-size="4.8" text-anchor="end" fill="#111" stroke="#111" stroke-width="0.13" transform="rotate(-90 205.67 120.20)">Bax2</text>
<text x="214.72" y="120.20" font-size="4.8" text-anchor="end" fill="#111" stroke="#111" stroke-width="0.13" transform="rotate(-90 214.72 120.20)">Bcl-Rmb</text>
<text x="223.76" y="120.20" font-size="4.8" text-anchor="end" fill="#111" stroke="#111" stroke-width="0.13" transform="rotate(-90 223.76 120.20)">Bcl-G</text>
<text x="232.81" y="120.20" font-size="4.8" text-anchor="end" fill="#111" stroke="#111" stroke-width="0.13" transform="rotate(-90 232.81 120.20)">MCL1-S</text>
<text x="241.85" y="120.20" font-size="4.8" text-anchor="end" fill="#111" stroke="#111" stroke-width="0.13" transform="rotate(-90 241.85 120.20)">NIAP</text>
<text x="250.90" y="120.20" font-size="4.8" text-anchor="end" fill="#111" stroke="#111" stroke-width="0.13" transform="rotate(-90 250.90 120.20)">IAP1</text>
<text x="259.95" y="120.20" font-size="4.8" text-anchor="end" fill="#111" stroke="#111" stroke-width="0.13" transform="rotate(-90 259.95 120.20)">XIAP</text>
<text x="268.99" y="120.20" font-size="4.8" text-anchor="end" fill="#111" stroke="#111" stroke-width="0.13" transform="rotate(-90 268.99 120.20)">SURVIVIN</text>
<text x="278.04" y="120.20" font-size="4.8" text-anchor="end" fill="#111" stroke="#111" stroke-width="0.13" transform="rotate(-90 278.04 120.20)">APOLLON</text>
<text x="287.08" y="120.20" font-size="4.8" text-anchor="end" fill="#111" stroke="#111" stroke-width="0.13" transform="rotate(-90 287.08 120.20)">LIVIN</text>
<text x="296.13" y="120.20" font-size="4.8" text-anchor="end" fill="#111" stroke="#111" stroke-width="0.13" transform="rotate(-90 296.13 120.20)">APAF-XL</text>
<text x="305.18" y="120.20" font-size="4.8" text-anchor="end" fill="#111" stroke="#111" stroke-width="0.13" transform="rotate(-90 305.18 120.20)">Flip</text>
<text x="314.22" y="120.20" font-size="4.8" text-anchor="end" fill="#111" stroke="#111" stroke-width="0.13" transform="rotate(-90 314.22 120.20)">AIF</text>
<text x="323.27" y="120.20" font-size="4.8" text-anchor="end" fill="#111" stroke="#111" stroke-width="0.13" transform="rotate(-90 323.27 120.20)">APAF</text>
<text x="332.31" y="120.20" font-size="4.8" text-anchor="end" fill="#111" stroke="#111" stroke-width="0.13" transform="rotate(-90 332.31 120.20)">DIABLO</text>
<text x="341.36" y="120.20" font-size="4.8" text-anchor="end" fill="#111" stroke="#111" stroke-width="0.13" transform="rotate(-90 341.36 120.20)">PARN</text>
<line x1="19.40" y1="144.70" x2="19.40" y2="150.90" stroke="#222" stroke-width="0.6"/>
<line x1="63.80" y1="144.70" x2="63.80" y2="150.90" stroke="#222" stroke-width="0.6"/>
<line x1="19.40" y1="150.60" x2="26.40" y2="150.60" stroke="#222" stroke-width="0.6"/>
<line x1="55.00" y1="150.60" x2="63.80" y2="150.60" stroke="#222" stroke-width="0.6"/>
<text x="40.35" y="152.20" font-size="5.2" font-weight="bold" text-anchor="middle" textLength="24.50" lengthAdjust="spacingAndGlyphs" stroke="#000" stroke-width="0.2">BCL-2-like</text>
<line x1="75.30" y1="144.70" x2="75.30" y2="150.90" stroke="#222" stroke-width="0.6"/>
<line x1="171.50" y1="144.70" x2="171.50" y2="150.90" stroke="#222" stroke-width="0.6"/>
<line x1="75.30" y1="150.60" x2="107.00" y2="150.60" stroke="#222" stroke-width="0.6"/>
<line x1="139.30" y1="150.60" x2="171.50" y2="150.60" stroke="#222" stroke-width="0.6"/>
<text x="123.15" y="152.20" font-size="5.2" font-weight="bold" text-anchor="middle" textLength="20.50" lengthAdjust="spacingAndGlyphs" stroke="#000" stroke-width="0.2">BH3-only</text>
<line x1="183.00" y1="144.70" x2="183.00" y2="150.90" stroke="#222" stroke-width="0.6"/>
<line x1="235.30" y1="144.70" x2="235.30" y2="150.90" stroke="#222" stroke-width="0.6"/>
<line x1="183.00" y1="150.60" x2="195.00" y2="150.60" stroke="#222" stroke-width="0.6"/>
<line x1="223.00" y1="150.60" x2="235.30" y2="150.60" stroke="#222" stroke-width="0.6"/>
<text x="209.15" y="152.20" font-size="5.2" font-weight="bold" text-anchor="middle" textLength="19.70" lengthAdjust="spacingAndGlyphs" stroke="#000" stroke-width="0.2">Bax-like</text>
<line x1="237.80" y1="144.70" x2="237.80" y2="150.90" stroke="#222" stroke-width="0.6"/>
<line x1="288.70" y1="144.70" x2="288.70" y2="150.90" stroke="#222" stroke-width="0.6"/>
<line x1="237.80" y1="150.60" x2="254.30" y2="150.60" stroke="#222" stroke-width="0.6"/>
<line x1="272.50" y1="150.60" x2="288.70" y2="150.60" stroke="#222" stroke-width="0.6"/>
<text x="264.80" y="152.20" font-size="5.2" font-weight="bold" text-anchor="middle" textLength="8.00" lengthAdjust="spacingAndGlyphs" stroke="#000" stroke-width="0.2">IAP</text>
<line x1="291.90" y1="144.70" x2="291.90" y2="150.90" stroke="#222" stroke-width="0.6"/>
<line x1="346.20" y1="144.70" x2="346.20" y2="150.90" stroke="#222" stroke-width="0.6"/>
<line x1="291.90" y1="150.60" x2="297.00" y2="150.60" stroke="#222" stroke-width="0.6"/>
<line x1="339.90" y1="150.60" x2="346.20" y2="150.60" stroke="#222" stroke-width="0.6"/>
<text x="318.50" y="152.20" font-size="5.2" font-weight="bold" text-anchor="middle" textLength="36.00" lengthAdjust="spacingAndGlyphs" stroke="#000" stroke-width="0.2">Miscellaneous</text>
<rect x="302.70" y="21.90" width="13.40" height="3.10" fill="#000" stroke="#111" stroke-width="0.5"/>
<text x="319.0" y="25.2" font-size="5.4" fill="#222" textLength="7.0" lengthAdjust="spacingAndGlyphs" stroke="#222" stroke-width="0.1">T=0</text>
<rect x="302.70" y="31.10" width="13.40" height="2.40" fill="#cfcfcf" stroke="#111" stroke-width="0.5"/>
<text x="319.0" y="34.1" font-size="5.4" fill="#222" textLength="17.4" lengthAdjust="spacingAndGlyphs" stroke="#222" stroke-width="0.1">T=3 3T3</text>
<rect x="302.70" y="40.10" width="13.40" height="2.40" fill="#f2f2f2" stroke="#111" stroke-width="0.5"/>
<text x="319.0" y="43.3" font-size="5.4" fill="#222" textLength="23.4" lengthAdjust="spacingAndGlyphs" stroke="#222" stroke-width="0.1">T=3 CD40L</text>
</g>
<g id="panelC">
<text x="356.60" y="11.80" font-size="13" text-anchor="start" fill="#000" font-weight="bold" stroke="#000" stroke-width="0.22">C</text>
<text x="392.00" y="33.10" font-size="4.6" text-anchor="middle" fill="#000" font-weight="bold" stroke="#000" stroke-width="0.22">B-CLL183</text>
<text x="428.00" y="33.10" font-size="4.6" text-anchor="middle" fill="#000" font-weight="bold" stroke="#000" stroke-width="0.22">B-CLL226</text>
<text x="462.20" y="33.10" font-size="4.6" text-anchor="middle" fill="#000" font-weight="bold" stroke="#000" stroke-width="0.22">B-CLL261</text>
<line x1="378.50" y1="34.30" x2="409.50" y2="34.30" stroke="#999" stroke-width="0.6"/>
<line x1="412.50" y1="34.30" x2="443.50" y2="34.30" stroke="#999" stroke-width="0.6"/>
<line x1="446.50" y1="34.30" x2="478.00" y2="34.30" stroke="#999" stroke-width="0.6"/>
<clipPath id="clip0"><rect x="377.0" y="39.5" width="101.20" height="8.00"/></clipPath>
<rect x="377.00" y="39.50" width="101.20" height="8.00" fill="#fbfbfb" stroke="none" stroke-width="0.5"/>
<g clip-path="url(#clip0)"><g filter="url(#blur1)">
<rect x="379.00" y="41.70" width="14.40" height="3.60" rx="1.80" ry="1.80" fill="#000" opacity="1.0"/>
<rect x="392.00" y="43.10" width="4.00" height="1.60" rx="0.80" ry="0.80" fill="#222" opacity="1.0"/>
<rect x="394.00" y="42.80" width="15.40" height="2.40" rx="1.20" ry="1.20" fill="#0a0a0a" opacity="1.0"/>
<rect x="411.80" y="41.95" width="13.80" height="3.10" rx="1.55" ry="1.55" fill="#000" opacity="1.0"/>
<rect x="428.40" y="43.25" width="11.80" height="1.50" rx="0.75" ry="0.75" fill="#777" opacity="1.0"/>
<rect x="444.60" y="41.05" width="14.30" height="4.30" rx="2.15" ry="2.15" fill="#000" opacity="1.0"/>
<rect x="457.00" y="42.60" width="5.00" height="2.00" rx="1.00" ry="1.00" fill="#111" opacity="1.0"/>
<rect x="460.00" y="42.20" width="17.20" height="3.00" rx="1.50" ry="1.50" fill="#000" opacity="1.0"/>
</g></g>
<rect x="377.00" y="39.50" width="101.20" height="8.00" fill="none" stroke="#111" stroke-width="0.7"/>
<clipPath id="clip1"><rect x="377.0" y="50.4" width="101.20" height="9.20"/></clipPath>
<rect x="377.00" y="50.40" width="101.20" height="9.20" fill="#2b2b2b" stroke="none" stroke-width="0.5"/>
<g clip-path="url(#clip1)"><g filter="url(#blur1)">
<rect x="376.00" y="49.00" width="16.00" height="12.00" rx="0.00" ry="0.00" fill="#3a3a3a" opacity="1"/>
<rect x="377.00" y="53.00" width="14.00" height="5.20" rx="2.60" ry="2.60" fill="#0c0c0c" opacity="1.0"/>
<rect x="386.50" y="50.00" width="6.00" height="3.50" rx="1.75" ry="1.75" fill="#9a9a9a" opacity="0.9"/>
<rect x="390.80" y="49.50" width="3.00" height="11.00" rx="1.20" ry="1.20" fill="#f2f2f2" opacity="1.0"/>
<rect x="393.80" y="49.00" width="15.20" height="12.00" rx="1.50" ry="1.50" fill="#000" opacity="1"/>
<rect x="408.40" y="49.00" width="18.00" height="12.00" rx="1.50" ry="1.50" fill="#d2d2d2" opacity="1"/>
<rect x="408.20" y="49.50" width="3.20" height="10.50" rx="1.20" ry="1.20" fill="#fafafa" opacity="1"/>
<rect x="422.60" y="49.50" width="3.60" height="6.50" rx="1.20" ry="1.20" fill="#fafafa" opacity="1"/>
<rect x="411.50" y="56.50" width="11.50" height="4.00" rx="2.00" ry="2.00" fill="#aaaaaa" opacity="0.9"/>
<rect x="427.40" y="49.00" width="13.20" height="12.00" rx="1.50" ry="1.50" fill="#000" opacity="1"/>
<rect x="429.00" y="51.20" width="10.50" height="1.60" rx="0.80" ry="0.80" fill="#444" opacity="0.8"/>
<rect x="440.60" y="49.50" width="3.70" height="11.00" rx="1.40" ry="1.40" fill="#e6e6e6" opacity="1"/>
<rect x="444.30" y="49.00" width="14.70" height="12.00" rx="1.50" ry="1.50" fill="#2a2a2a" opacity="1"/>
<rect x="445.00" y="54.30" width="13.50" height="4.40" rx="2.20" ry="2.20" fill="#000" opacity="1.0"/>
<rect x="446.00" y="51.00" width="11.50" height="1.60" rx="0.80" ry="0.80" fill="#666" opacity="0.9"/>
<rect x="458.60" y="49.50" width="3.00" height="11.00" rx="1.30" ry="1.30" fill="#d8d8d8" opacity="1"/>
<rect x="461.60" y="49.00" width="17.40" height="12.00" rx="1.50" ry="1.50" fill="#050505" opacity="1"/>
<rect x="463.50" y="51.00" width="12.50" height="1.20" rx="0.60" ry="0.60" fill="#555" opacity="0.8"/>
</g></g>
<rect x="377.00" y="50.40" width="101.20" height="9.20" fill="none" stroke="#111" stroke-width="0.7"/>
<clipPath id="clip2"><rect x="377.0" y="62.9" width="101.20" height="9.00"/></clipPath>
<rect x="377.00" y="62.90" width="101.20" height="9.00" fill="#505050" stroke="none" stroke-width="0.5"/>
<g clip-path="url(#clip2)"><g filter="url(#blur1)">
<rect x="376.00" y="69.60" width="104.00" height="3.40" rx="0.00" ry="0.00" fill="#9a9a9a" opacity="0.9"/>
<rect x="376.00" y="62.00" width="104.00" height="3.00" rx="0.00" ry="0.00" fill="#2e2e2e" opacity="0.9"/>
<rect x="377.50" y="64.50" width="13.50" height="4.60" rx="2.30" ry="2.30" fill="#3a3a3a" opacity="1.0"/>
<rect x="393.40" y="64.60" width="15.40" height="5.60" rx="2.80" ry="2.80" fill="#050505" opacity="1.0"/>
<rect x="412.00" y="64.90" width="12.80" height="4.20" rx="2.10" ry="2.10" fill="#3c3c3c" opacity="1.0"/>
<rect x="428.40" y="64.40" width="13.20" height="5.60" rx="2.80" ry="2.80" fill="#060606" opacity="1.0"/>
<rect x="446.00" y="65.00" width="12.60" height="4.00" rx="2.00" ry="2.00" fill="#484848" opacity="1.0"/>
<rect x="462.40" y="64.70" width="15.00" height="5.20" rx="2.60" ry="2.60" fill="#141414" opacity="1.0"/>
<rect x="390.90" y="63.50" width="1.80" height="8.00" rx="0.90" ry="0.90" fill="#9c9c9c" opacity="0.75"/>
<rect x="409.30" y="63.50" width="1.80" height="8.00" rx="0.90" ry="0.90" fill="#9c9c9c" opacity="0.75"/>
<rect x="425.70" y="63.50" width="1.80" height="8.00" rx="0.90" ry="0.90" fill="#9c9c9c" opacity="0.75"/>
<rect x="442.70" y="63.50" width="1.80" height="8.00" rx="0.90" ry="0.90" fill="#9c9c9c" opacity="0.75"/>
<rect x="459.50" y="63.50" width="1.80" height="8.00" rx="0.90" ry="0.90" fill="#9c9c9c" opacity="0.75"/>
</g></g>
<rect x="377.00" y="62.90" width="101.20" height="9.00" fill="none" stroke="#111" stroke-width="0.7"/>
<clipPath id="clip3"><rect x="377.0" y="76.1" width="101.20" height="8.70"/></clipPath>
<rect x="377.00" y="76.10" width="101.20" height="8.70" fill="#ececec" stroke="none" stroke-width="0.5"/>
<g clip-path="url(#clip3)"><g filter="url(#blur1)">
<rect x="377.00" y="76.00" width="16.00" height="4.00" rx="1.00" ry="1.00" fill="#a0a0a0" opacity="0.9"/>
<rect x="394.50" y="76.00" width="14.50" height="5.00" rx="1.00" ry="1.00" fill="#f8f8f8" opacity="1"/>
<rect x="412.00" y="76.00" width="14.00" height="4.00" rx="1.00" ry="1.00" fill="#c8c8c8" opacity="0.9"/>
<rect x="430.50" y="76.00" width="7.00" height="5.50" rx="1.00" ry="1.00" fill="#8a8a8a" opacity="0.9"/>
<rect x="446.00" y="76.50" width="11.00" height="4.00" rx="1.00" ry="1.00" fill="#b4b4b4" opacity="0.9"/>
<rect x="461.00" y="76.00" width="17.00" height="3.50" rx="1.00" ry="1.00" fill="#fafafa" opacity="1"/>
<rect x="377.20" y="79.50" width="16.00" height="5.40" rx="2.70" ry="2.70" fill="#000" opacity="1.0"/>
<rect x="393.80" y="81.30" width="15.60" height="3.60" rx="1.80" ry="1.80" fill="#000" opacity="1.0"/>
<rect x="411.60" y="79.50" width="14.60" height="5.40" rx="2.70" ry="2.70" fill="#000" opacity="1.0"/>
<rect x="427.80" y="81.00" width="13.60" height="4.00" rx="2.00" ry="2.00" fill="#000" opacity="1.0"/>
<rect x="443.80" y="80.00" width="15.00" height="4.80" rx="2.40" ry="2.40" fill="#000" opacity="1.0"/>
<rect x="460.80" y="79.50" width="17.00" height="4.20" rx="2.10" ry="2.10" fill="#000" opacity="1.0"/>
<rect x="461.00" y="84.00" width="17.00" height="1.20" rx="0.50" ry="0.50" fill="#dcdcdc" opacity="0.9"/>
</g></g>
<rect x="377.00" y="76.10" width="101.20" height="8.70" fill="none" stroke="#111" stroke-width="0.7"/>
<text x="482.40" y="45.90" font-size="4.6" text-anchor="start" fill="#000" font-weight="bold" stroke="#000" stroke-width="0.22">Noxa</text>
<text x="482.40" y="56.60" font-size="4.6" text-anchor="start" fill="#000" font-weight="bold" stroke="#000" stroke-width="0.22">Mcl-1</text>
<text x="482.40" y="69.00" font-size="4.6" text-anchor="start" fill="#000" font-weight="bold" stroke="#000" stroke-width="0.22">Bcl-xL</text>
<text x="482.40" y="82.20" font-size="4.6" text-anchor="start" fill="#000" font-weight="bold" stroke="#000" stroke-width="0.22">Loading control</text>
<text x="371.00" y="38.60" font-size="4.6" text-anchor="end" fill="#000" font-weight="bold" stroke="#000" stroke-width="0.22">15 kDa</text>
<path d="M371.8 37.00 L375.8 34.80 L375.8 39.20 Z" fill="#000"/>
<text x="371.00" y="55.80" font-size="4.6" text-anchor="end" fill="#000" font-weight="bold" stroke="#000" stroke-width="0.22">37 kDa</text>
<path d="M371.8 54.20 L375.8 52.00 L375.8 56.40 Z" fill="#000"/>
<text x="371.00" y="72.60" font-size="4.6" text-anchor="end" fill="#000" font-weight="bold" stroke="#000" stroke-width="0.22">25 kDa</text>
<path d="M371.8 71.00 L375.8 68.80 L375.8 73.20 Z" fill="#000"/>
<text x="371.00" y="90.30" font-size="4.6" text-anchor="end" fill="#000" font-weight="bold" stroke="#000" stroke-width="0.22">25 kDa</text>
<path d="M371.8 88.70 L375.8 86.50 L375.8 90.90 Z" fill="#000"/>
<text x="386.30" y="89.90" font-size="4.5" text-anchor="middle" fill="#000" font-weight="bold" stroke="#000" stroke-width="0.22">C</text>
<text x="401.70" y="89.90" font-size="4.5" text-anchor="middle" fill="#000" font-weight="bold" stroke="#000" stroke-width="0.22">CD40L</text>
<text x="417.40" y="89.90" font-size="4.5" text-anchor="middle" fill="#000" font-weight="bold" stroke="#000" stroke-width="0.22">C</text>
<text x="435.00" y="89.90" font-size="4.5" text-anchor="middle" fill="#000" font-weight="bold" stroke="#000" stroke-width="0.22">CD40L</text>
<text x="452.40" y="89.90" font-size="4.5" text-anchor="middle" fill="#000" font-weight="bold" stroke="#000" stroke-width="0.22">C</text>
<text x="470.10" y="89.90" font-size="4.5" text-anchor="middle" fill="#000" font-weight="bold" stroke="#000" stroke-width="0.22">CD40L</text>
</g>
<g id="panelB">
<text x="1.80" y="177.00" font-size="13" text-anchor="start" fill="#000" font-weight="bold" stroke="#000" stroke-width="0.22">B</text>
<line x1="35.40" y1="214.42" x2="35.40" y2="207.94" stroke="#666" stroke-width="0.5"/>
<line x1="33.90" y1="207.94" x2="36.90" y2="207.94" stroke="#666" stroke-width="0.5"/>
<line x1="75.40" y1="222.88" x2="75.40" y2="213.16" stroke="#666" stroke-width="0.5"/>
<line x1="73.90" y1="213.16" x2="76.90" y2="213.16" stroke="#666" stroke-width="0.5"/>
<line x1="115.40" y1="225.94" x2="115.40" y2="219.46" stroke="#666" stroke-width="0.5"/>
<line x1="113.90" y1="219.46" x2="116.90" y2="219.46" stroke="#666" stroke-width="0.5"/>
<line x1="35.40" y1="234.22" x2="35.40" y2="238.90" stroke="#666" stroke-width="0.5"/>
<line x1="33.90" y1="238.90" x2="36.90" y2="238.90" stroke="#666" stroke-width="0.5"/>
<line x1="75.40" y1="236.92" x2="75.40" y2="243.76" stroke="#666" stroke-width="0.5"/>
<line x1="73.90" y1="243.76" x2="76.90" y2="243.76" stroke="#666" stroke-width="0.5"/>
<line x1="115.40" y1="239.62" x2="115.40" y2="244.66" stroke="#666" stroke-width="0.5"/>
<line x1="113.90" y1="244.66" x2="116.90" y2="244.66" stroke="#666" stroke-width="0.5"/>
<polyline points="15.40,201.10 35.40,214.42 75.40,222.88 115.40,225.94" fill="none" stroke="#111" stroke-width="0.9"/>
<polyline points="15.40,201.10 35.40,234.22 75.40,236.92 115.40,239.62" fill="none" stroke="#000" stroke-width="0.95"/>
<path d="M14.25 199.75 L16.55 199.75 L15.40 202.10 Z" fill="#fff" stroke="#000" stroke-width="0.75"/>
<path d="M34.25 213.07 L36.55 213.07 L35.40 215.42 Z" fill="#fff" stroke="#000" stroke-width="0.75"/>
<path d="M74.25 221.53 L76.55 221.53 L75.40 223.88 Z" fill="#fff" stroke="#000" stroke-width="0.75"/>
<path d="M114.25 224.59 L116.55 224.59 L115.40 226.94 Z" fill="#fff" stroke="#000" stroke-width="0.75"/>
<circle cx="15.40" cy="201.10" r="1.15" fill="#000"/>
<circle cx="35.40" cy="234.22" r="1.15" fill="#000"/>
<circle cx="75.40" cy="236.92" r="1.15" fill="#000"/>
<circle cx="115.40" cy="239.62" r="1.15" fill="#000"/>
<line x1="15.40" y1="188.10" x2="15.40" y2="261.00" stroke="#000" stroke-width="1.0"/>
<line x1="15.00" y1="260.50" x2="115.90" y2="260.50" stroke="#000" stroke-width="1.0"/>
<line x1="13.20" y1="260.50" x2="15.40" y2="260.50" stroke="#000" stroke-width="0.8"/>
<text x="12.50" y="262.20" font-size="4.7" text-anchor="end" fill="#000" font-weight="bold" stroke="#000" stroke-width="0.15">0</text>
<line x1="13.20" y1="242.50" x2="15.40" y2="242.50" stroke="#000" stroke-width="0.8"/>
<text x="12.50" y="244.20" font-size="4.7" text-anchor="end" fill="#000" font-weight="bold" stroke="#000" stroke-width="0.15">5</text>
<line x1="13.20" y1="224.50" x2="15.40" y2="224.50" stroke="#000" stroke-width="0.8"/>
<text x="12.50" y="226.20" font-size="4.7" text-anchor="end" fill="#000" font-weight="bold" stroke="#000" stroke-width="0.15">10</text>
<line x1="13.20" y1="206.50" x2="15.40" y2="206.50" stroke="#000" stroke-width="0.8"/>
<text x="12.50" y="208.20" font-size="4.7" text-anchor="end" fill="#000" font-weight="bold" stroke="#000" stroke-width="0.15">15</text>
<line x1="13.20" y1="188.50" x2="15.40" y2="188.50" stroke="#000" stroke-width="0.8"/>
<text x="12.50" y="190.20" font-size="4.7" text-anchor="end" fill="#000" font-weight="bold" stroke="#000" stroke-width="0.15">20</text>
<line x1="15.40" y1="260.50" x2="15.40" y2="262.50" stroke="#000" stroke-width="0.8"/>
<text x="15.40" y="268.20" font-size="4.8" text-anchor="middle" fill="#000" font-weight="bold" stroke="#000" stroke-width="0.15">0</text>
<line x1="35.40" y1="260.50" x2="35.40" y2="262.50" stroke="#000" stroke-width="0.8"/>
<text x="35.40" y="268.20" font-size="4.8" text-anchor="middle" fill="#000" font-weight="bold" stroke="#000" stroke-width="0.15">1</text>
<line x1="55.40" y1="260.50" x2="55.40" y2="262.50" stroke="#000" stroke-width="0.8"/>
<text x="55.40" y="268.20" font-size="4.8" text-anchor="middle" fill="#000" font-weight="bold" stroke="#000" stroke-width="0.15">2</text>
<line x1="75.40" y1="260.50" x2="75.40" y2="262.50" stroke="#000" stroke-width="0.8"/>
<text x="75.40" y="268.20" font-size="4.8" text-anchor="middle" fill="#000" font-weight="bold" stroke="#000" stroke-width="0.15">3</text>
<line x1="95.40" y1="260.50" x2="95.40" y2="262.50" stroke="#000" stroke-width="0.8"/>
<text x="95.40" y="268.20" font-size="4.8" text-anchor="middle" fill="#000" font-weight="bold" stroke="#000" stroke-width="0.15">4</text>
<line x1="115.40" y1="260.50" x2="115.40" y2="262.50" stroke="#000" stroke-width="0.8"/>
<text x="115.40" y="268.20" font-size="4.8" text-anchor="middle" fill="#000" font-weight="bold" stroke="#000" stroke-width="0.15">5</text>
<text x="65.40" y="276.10" font-size="5.6" text-anchor="middle" fill="#000" font-weight="bold" stroke="#000" stroke-width="0.22">Days</text>
<text x="65.00" y="180.00" font-size="6.4" text-anchor="middle" fill="#000" font-weight="bold" stroke="#000" stroke-width="0.22">Noxa</text>
<path d="M91.65 188.50 L93.95 188.50 L92.80 190.90 Z" fill="#fff" stroke="#000" stroke-width="0.75"/>
<circle cx="92.80" cy="200.00" r="1.1" fill="#000"/>
<text x="99.00" y="191.70" font-size="5.3" text-anchor="start" fill="#222" stroke="#222" stroke-width="0.16">3T3</text>
<text x="99.00" y="201.90" font-size="5.3" text-anchor="start" fill="#222" stroke="#222" stroke-width="0.16">CD40L</text>
<text x="5.00" y="224.80" font-size="5.0" text-anchor="middle" fill="#000" font-weight="bold" stroke="#000" stroke-width="0.1" transform="rotate(-90 5.00 224.80)">relative expression</text>
<text x="35.50" y="202.00" font-size="5.8" text-anchor="middle" fill="#000" font-weight="bold" stroke="#000" stroke-width="0.22">*</text>
<text x="35.40" y="206.70" font-size="2.9" text-anchor="middle" fill="#778">0.076</text>
<text x="35.40" y="227.50" font-size="6.5" text-anchor="middle" fill="#000" font-weight="bold" stroke="#000" stroke-width="0.22">**</text>
<text x="35.40" y="245.80" font-size="6.5" text-anchor="middle" fill="#000" font-weight="bold" stroke="#000" stroke-width="0.22">*</text>
<text x="35.40" y="249.40" font-size="2.9" text-anchor="middle" fill="#778">0.004</text>
<line x1="170.55" y1="250.78" x2="170.55" y2="254.38" stroke="#666" stroke-width="0.5"/>
<line x1="169.05" y1="254.38" x2="172.05" y2="254.38" stroke="#666" stroke-width="0.5"/>
<line x1="210.45" y1="252.94" x2="210.45" y2="260.14" stroke="#666" stroke-width="0.5"/>
<line x1="208.95" y1="260.14" x2="211.95" y2="260.14" stroke="#666" stroke-width="0.5"/>
<line x1="250.35" y1="249.34" x2="250.35" y2="260.14" stroke="#666" stroke-width="0.5"/>
<line x1="248.85" y1="260.14" x2="251.85" y2="260.14" stroke="#666" stroke-width="0.5"/>
<line x1="170.55" y1="215.14" x2="170.55" y2="194.62" stroke="#666" stroke-width="0.5"/>
<line x1="169.05" y1="194.62" x2="172.05" y2="194.62" stroke="#666" stroke-width="0.5"/>
<line x1="210.45" y1="228.82" x2="210.45" y2="216.22" stroke="#666" stroke-width="0.5"/>
<line x1="208.95" y1="216.22" x2="211.95" y2="216.22" stroke="#666" stroke-width="0.5"/>
<line x1="250.35" y1="221.62" x2="250.35" y2="208.66" stroke="#666" stroke-width="0.5"/>
<line x1="248.85" y1="208.66" x2="251.85" y2="208.66" stroke="#666" stroke-width="0.5"/>
<polyline points="150.60,253.30 170.55,250.78 210.45,252.94 250.35,249.34" fill="none" stroke="#111" stroke-width="0.9"/>
<polyline points="150.60,253.30 170.55,215.14 210.45,228.82 250.35,221.62" fill="none" stroke="#000" stroke-width="0.95"/>
<path d="M149.45 251.95 L151.75 251.95 L150.60 254.30 Z" fill="#fff" stroke="#000" stroke-width="0.75"/>
<path d="M169.40 249.43 L171.70 249.43 L170.55 251.78 Z" fill="#fff" stroke="#000" stroke-width="0.75"/>
<path d="M209.30 251.59 L211.60 251.59 L210.45 253.94 Z" fill="#fff" stroke="#000" stroke-width="0.75"/>
<path d="M249.20 247.99 L251.50 247.99 L250.35 250.34 Z" fill="#fff" stroke="#000" stroke-width="0.75"/>
<circle cx="150.60" cy="253.30" r="1.15" fill="#000"/>
<circle cx="170.55" cy="215.14" r="1.15" fill="#000"/>
<circle cx="210.45" cy="228.82" r="1.15" fill="#000"/>
<circle cx="250.35" cy="221.62" r="1.15" fill="#000"/>
<line x1="150.60" y1="188.10" x2="150.60" y2="261.00" stroke="#000" stroke-width="1.0"/>
<line x1="150.20" y1="260.50" x2="250.85" y2="260.50" stroke="#000" stroke-width="1.0"/>
<line x1="148.40" y1="260.50" x2="150.60" y2="260.50" stroke="#000" stroke-width="0.8"/>
<text x="147.70" y="262.20" font-size="4.7" text-anchor="end" fill="#000" font-weight="bold" stroke="#000" stroke-width="0.15">0</text>
<line x1="148.40" y1="246.10" x2="150.60" y2="246.10" stroke="#000" stroke-width="0.8"/>
<text x="147.70" y="247.80" font-size="4.7" text-anchor="end" fill="#000" font-weight="bold" stroke="#000" stroke-width="0.15">2</text>
<line x1="148.40" y1="231.70" x2="150.60" y2="231.70" stroke="#000" stroke-width="0.8"/>
<text x="147.70" y="233.40" font-size="4.7" text-anchor="end" fill="#000" font-weight="bold" stroke="#000" stroke-width="0.15">4</text>
<line x1="148.40" y1="217.30" x2="150.60" y2="217.30" stroke="#000" stroke-width="0.8"/>
<text x="147.70" y="219.00" font-size="4.7" text-anchor="end" fill="#000" font-weight="bold" stroke="#000" stroke-width="0.15">6</text>
<line x1="148.40" y1="202.90" x2="150.60" y2="202.90" stroke="#000" stroke-width="0.8"/>
<text x="147.70" y="204.60" font-size="4.7" text-anchor="end" fill="#000" font-weight="bold" stroke="#000" stroke-width="0.15">8</text>
<line x1="148.40" y1="188.50" x2="150.60" y2="188.50" stroke="#000" stroke-width="0.8"/>
<text x="147.70" y="190.20" font-size="4.7" text-anchor="end" fill="#000" font-weight="bold" stroke="#000" stroke-width="0.15">10</text>
<line x1="150.60" y1="260.50" x2="150.60" y2="262.50" stroke="#000" stroke-width="0.8"/>
<text x="150.60" y="268.20" font-size="4.8" text-anchor="middle" fill="#000" font-weight="bold" stroke="#000" stroke-width="0.15">0</text>
<line x1="170.55" y1="260.50" x2="170.55" y2="262.50" stroke="#000" stroke-width="0.8"/>
<text x="170.55" y="268.20" font-size="4.8" text-anchor="middle" fill="#000" font-weight="bold" stroke="#000" stroke-width="0.15">1</text>
<line x1="190.50" y1="260.50" x2="190.50" y2="262.50" stroke="#000" stroke-width="0.8"/>
<text x="190.50" y="268.20" font-size="4.8" text-anchor="middle" fill="#000" font-weight="bold" stroke="#000" stroke-width="0.15">2</text>
<line x1="210.45" y1="260.50" x2="210.45" y2="262.50" stroke="#000" stroke-width="0.8"/>
<text x="210.45" y="268.20" font-size="4.8" text-anchor="middle" fill="#000" font-weight="bold" stroke="#000" stroke-width="0.15">3</text>
<line x1="230.40" y1="260.50" x2="230.40" y2="262.50" stroke="#000" stroke-width="0.8"/>
<text x="230.40" y="268.20" font-size="4.8" text-anchor="middle" fill="#000" font-weight="bold" stroke="#000" stroke-width="0.15">4</text>
<line x1="250.35" y1="260.50" x2="250.35" y2="262.50" stroke="#000" stroke-width="0.8"/>
<text x="250.35" y="268.20" font-size="4.8" text-anchor="middle" fill="#000" font-weight="bold" stroke="#000" stroke-width="0.15">5</text>
<text x="200.47" y="276.10" font-size="5.6" text-anchor="middle" fill="#000" font-weight="bold" stroke="#000" stroke-width="0.22">Days</text>
<text x="200.30" y="180.00" font-size="6.4" text-anchor="middle" fill="#000" font-weight="bold" stroke="#000" stroke-width="0.22">A1</text>
<path d="M222.65 186.70 L224.95 186.70 L223.80 189.10 Z" fill="#fff" stroke="#000" stroke-width="0.75"/>
<circle cx="223.80" cy="198.50" r="1.1" fill="#000"/>
<text x="230.00" y="189.90" font-size="5.3" text-anchor="start" fill="#222" stroke="#222" stroke-width="0.16">3T3</text>
<text x="230.00" y="200.40" font-size="5.3" text-anchor="start" fill="#222" stroke="#222" stroke-width="0.16">CD40L</text>
<text x="139.70" y="227.50" font-size="3.2" text-anchor="middle" fill="#333" font-weight="bold" transform="rotate(-90 139.70 227.50)">relative expression</text>
<line x1="302.78" y1="251.14" x2="302.78" y2="255.46" stroke="#666" stroke-width="0.5"/>
<line x1="301.28" y1="255.46" x2="304.28" y2="255.46" stroke="#666" stroke-width="0.5"/>
<line x1="342.84" y1="254.74" x2="342.84" y2="259.06" stroke="#666" stroke-width="0.5"/>
<line x1="341.34" y1="259.06" x2="344.34" y2="259.06" stroke="#666" stroke-width="0.5"/>
<line x1="382.90" y1="254.45" x2="382.90" y2="258.77" stroke="#666" stroke-width="0.5"/>
<line x1="381.40" y1="258.77" x2="384.40" y2="258.77" stroke="#666" stroke-width="0.5"/>
<line x1="302.78" y1="218.31" x2="302.78" y2="201.75" stroke="#666" stroke-width="0.5"/>
<line x1="301.28" y1="201.75" x2="304.28" y2="201.75" stroke="#666" stroke-width="0.5"/>
<line x1="342.84" y1="216.58" x2="342.84" y2="197.86" stroke="#666" stroke-width="0.5"/>
<line x1="341.34" y1="197.86" x2="344.34" y2="197.86" stroke="#666" stroke-width="0.5"/>
<line x1="382.90" y1="222.63" x2="382.90" y2="211.83" stroke="#666" stroke-width="0.5"/>
<line x1="381.40" y1="211.83" x2="384.40" y2="211.83" stroke="#666" stroke-width="0.5"/>
<polyline points="282.75,253.01 302.78,251.14 342.84,254.74 382.90,254.45" fill="none" stroke="#111" stroke-width="0.9"/>
<polyline points="282.75,253.01 302.78,218.31 342.84,216.58 382.90,222.63" fill="none" stroke="#000" stroke-width="0.95"/>
<path d="M281.60 251.66 L283.90 251.66 L282.75 254.01 Z" fill="#fff" stroke="#000" stroke-width="0.75"/>
<path d="M301.63 249.79 L303.93 249.79 L302.78 252.14 Z" fill="#fff" stroke="#000" stroke-width="0.75"/>
<path d="M341.69 253.39 L343.99 253.39 L342.84 255.74 Z" fill="#fff" stroke="#000" stroke-width="0.75"/>
<path d="M381.75 253.10 L384.05 253.10 L382.90 255.45 Z" fill="#fff" stroke="#000" stroke-width="0.75"/>
<circle cx="282.75" cy="253.01" r="1.15" fill="#000"/>
<circle cx="302.78" cy="218.31" r="1.15" fill="#000"/>
<circle cx="342.84" cy="216.58" r="1.15" fill="#000"/>
<circle cx="382.90" cy="222.63" r="1.15" fill="#000"/>
<line x1="282.75" y1="188.10" x2="282.75" y2="261.00" stroke="#000" stroke-width="1.0"/>
<line x1="282.35" y1="260.50" x2="383.40" y2="260.50" stroke="#000" stroke-width="1.0"/>
<line x1="280.55" y1="260.50" x2="282.75" y2="260.50" stroke="#000" stroke-width="0.8"/>
<text x="279.85" y="262.20" font-size="4.7" text-anchor="end" fill="#000" font-weight="bold" stroke="#000" stroke-width="0.15">0</text>
<line x1="280.55" y1="246.10" x2="282.75" y2="246.10" stroke="#000" stroke-width="0.8"/>
<text x="279.85" y="247.80" font-size="4.7" text-anchor="end" fill="#000" font-weight="bold" stroke="#000" stroke-width="0.15">1</text>
<line x1="280.55" y1="231.70" x2="282.75" y2="231.70" stroke="#000" stroke-width="0.8"/>
<text x="279.85" y="233.40" font-size="4.7" text-anchor="end" fill="#000" font-weight="bold" stroke="#000" stroke-width="0.15">2</text>
<line x1="280.55" y1="217.30" x2="282.75" y2="217.30" stroke="#000" stroke-width="0.8"/>
<text x="279.85" y="219.00" font-size="4.7" text-anchor="end" fill="#000" font-weight="bold" stroke="#000" stroke-width="0.15">3</text>
<line x1="280.55" y1="202.90" x2="282.75" y2="202.90" stroke="#000" stroke-width="0.8"/>
<text x="279.85" y="204.60" font-size="4.7" text-anchor="end" fill="#000" font-weight="bold" stroke="#000" stroke-width="0.15">4</text>
<line x1="280.55" y1="188.50" x2="282.75" y2="188.50" stroke="#000" stroke-width="0.8"/>
<text x="279.85" y="190.20" font-size="4.7" text-anchor="end" fill="#000" font-weight="bold" stroke="#000" stroke-width="0.15">5</text>
<line x1="282.75" y1="260.50" x2="282.75" y2="262.50" stroke="#000" stroke-width="0.8"/>
<text x="282.75" y="268.20" font-size="4.8" text-anchor="middle" fill="#000" font-weight="bold" stroke="#000" stroke-width="0.15">0</text>
<line x1="302.78" y1="260.50" x2="302.78" y2="262.50" stroke="#000" stroke-width="0.8"/>
<text x="302.78" y="268.20" font-size="4.8" text-anchor="middle" fill="#000" font-weight="bold" stroke="#000" stroke-width="0.15">1</text>
<line x1="322.81" y1="260.50" x2="322.81" y2="262.50" stroke="#000" stroke-width="0.8"/>
<text x="322.81" y="268.20" font-size="4.8" text-anchor="middle" fill="#000" font-weight="bold" stroke="#000" stroke-width="0.15">2</text>
<line x1="342.84" y1="260.50" x2="342.84" y2="262.50" stroke="#000" stroke-width="0.8"/>
<text x="342.84" y="268.20" font-size="4.8" text-anchor="middle" fill="#000" font-weight="bold" stroke="#000" stroke-width="0.15">3</text>
<line x1="362.87" y1="260.50" x2="362.87" y2="262.50" stroke="#000" stroke-width="0.8"/>
<text x="362.87" y="268.20" font-size="4.8" text-anchor="middle" fill="#000" font-weight="bold" stroke="#000" stroke-width="0.15">4</text>
<line x1="382.90" y1="260.50" x2="382.90" y2="262.50" stroke="#000" stroke-width="0.8"/>
<text x="382.90" y="268.20" font-size="4.8" text-anchor="middle" fill="#000" font-weight="bold" stroke="#000" stroke-width="0.15">5</text>
<text x="332.82" y="276.10" font-size="5.6" text-anchor="middle" fill="#000" font-weight="bold" stroke="#000" stroke-width="0.22">Days</text>
<text x="333.00" y="180.00" font-size="6.4" text-anchor="middle" fill="#000" font-weight="bold" stroke="#000" stroke-width="0.22">Bcl-xL</text>
<path d="M357.65 189.30 L359.95 189.30 L358.80 191.70 Z" fill="#fff" stroke="#000" stroke-width="0.75"/>
<circle cx="358.80" cy="199.40" r="1.1" fill="#000"/>
<text x="364.40" y="192.50" font-size="5.3" text-anchor="start" fill="#222" stroke="#222" stroke-width="0.16">3T3</text>
<text x="364.40" y="201.30" font-size="5.3" text-anchor="start" fill="#222" stroke="#222" stroke-width="0.16">CD40L</text>
<text x="274.80" y="224.80" font-size="5.2" text-anchor="middle" fill="#000" font-weight="bold" stroke="#000" stroke-width="0.1" transform="rotate(-90 274.80 224.80)">relative expression</text>
<line x1="436.20" y1="248.80" x2="436.20" y2="259.60" stroke="#666" stroke-width="0.5"/>
<line x1="434.70" y1="259.60" x2="437.70" y2="259.60" stroke="#666" stroke-width="0.5"/>
<line x1="476.10" y1="256.63" x2="476.10" y2="260.23" stroke="#666" stroke-width="0.5"/>
<line x1="474.60" y1="260.23" x2="477.60" y2="260.23" stroke="#666" stroke-width="0.5"/>
<line x1="516.00" y1="255.10" x2="516.00" y2="260.50" stroke="#666" stroke-width="0.5"/>
<line x1="514.50" y1="260.50" x2="517.50" y2="260.50" stroke="#666" stroke-width="0.5"/>
<line x1="436.20" y1="230.80" x2="436.20" y2="220.00" stroke="#666" stroke-width="0.5"/>
<line x1="434.70" y1="220.00" x2="437.70" y2="220.00" stroke="#666" stroke-width="0.5"/>
<line x1="476.10" y1="219.55" x2="476.10" y2="198.40" stroke="#666" stroke-width="0.5"/>
<line x1="474.60" y1="198.40" x2="477.60" y2="198.40" stroke="#666" stroke-width="0.5"/>
<line x1="516.00" y1="225.40" x2="516.00" y2="217.30" stroke="#666" stroke-width="0.5"/>
<line x1="514.50" y1="217.30" x2="517.50" y2="217.30" stroke="#666" stroke-width="0.5"/>
<polyline points="416.25,257.80 436.20,248.80 476.10,256.63 516.00,255.10" fill="none" stroke="#111" stroke-width="0.9"/>
<polyline points="416.25,257.80 436.20,230.80 476.10,219.55 516.00,225.40" fill="none" stroke="#000" stroke-width="0.95"/>
<path d="M415.10 256.45 L417.40 256.45 L416.25 258.80 Z" fill="#fff" stroke="#000" stroke-width="0.75"/>
<path d="M435.05 247.45 L437.35 247.45 L436.20 249.80 Z" fill="#fff" stroke="#000" stroke-width="0.75"/>
<path d="M474.95 255.28 L477.25 255.28 L476.10 257.63 Z" fill="#fff" stroke="#000" stroke-width="0.75"/>
<path d="M514.85 253.75 L517.15 253.75 L516.00 256.10 Z" fill="#fff" stroke="#000" stroke-width="0.75"/>
<circle cx="416.25" cy="257.80" r="1.15" fill="#000"/>
<circle cx="436.20" cy="230.80" r="1.15" fill="#000"/>
<circle cx="476.10" cy="219.55" r="1.15" fill="#000"/>
<circle cx="516.00" cy="225.40" r="1.15" fill="#000"/>
<line x1="416.25" y1="188.10" x2="416.25" y2="261.00" stroke="#000" stroke-width="1.0"/>
<line x1="415.85" y1="260.50" x2="516.50" y2="260.50" stroke="#000" stroke-width="1.0"/>
<line x1="414.05" y1="260.50" x2="416.25" y2="260.50" stroke="#000" stroke-width="0.8"/>
<text x="413.35" y="262.20" font-size="4.7" text-anchor="end" fill="#000" font-weight="bold" stroke="#000" stroke-width="0.15">0</text>
<line x1="414.05" y1="242.50" x2="416.25" y2="242.50" stroke="#000" stroke-width="0.8"/>
<text x="413.35" y="244.20" font-size="4.7" text-anchor="end" fill="#000" font-weight="bold" stroke="#000" stroke-width="0.15">2</text>
<line x1="414.05" y1="224.50" x2="416.25" y2="224.50" stroke="#000" stroke-width="0.8"/>
<text x="413.35" y="226.20" font-size="4.7" text-anchor="end" fill="#000" font-weight="bold" stroke="#000" stroke-width="0.15">4</text>
<line x1="414.05" y1="206.50" x2="416.25" y2="206.50" stroke="#000" stroke-width="0.8"/>
<text x="413.35" y="208.20" font-size="4.7" text-anchor="end" fill="#000" font-weight="bold" stroke="#000" stroke-width="0.15">6</text>
<line x1="414.05" y1="188.50" x2="416.25" y2="188.50" stroke="#000" stroke-width="0.8"/>
<text x="413.35" y="190.20" font-size="4.7" text-anchor="end" fill="#000" font-weight="bold" stroke="#000" stroke-width="0.15">8</text>
<line x1="416.25" y1="260.50" x2="416.25" y2="262.50" stroke="#000" stroke-width="0.8"/>
<text x="416.25" y="268.20" font-size="4.8" text-anchor="middle" fill="#000" font-weight="bold" stroke="#000" stroke-width="0.15">0</text>
<line x1="436.20" y1="260.50" x2="436.20" y2="262.50" stroke="#000" stroke-width="0.8"/>
<text x="436.20" y="268.20" font-size="4.8" text-anchor="middle" fill="#000" font-weight="bold" stroke="#000" stroke-width="0.15">1</text>
<line x1="456.15" y1="260.50" x2="456.15" y2="262.50" stroke="#000" stroke-width="0.8"/>
<text x="456.15" y="268.20" font-size="4.8" text-anchor="middle" fill="#000" font-weight="bold" stroke="#000" stroke-width="0.15">2</text>
<line x1="476.10" y1="260.50" x2="476.10" y2="262.50" stroke="#000" stroke-width="0.8"/>
<text x="476.10" y="268.20" font-size="4.8" text-anchor="middle" fill="#000" font-weight="bold" stroke="#000" stroke-width="0.15">3</text>
<line x1="496.05" y1="260.50" x2="496.05" y2="262.50" stroke="#000" stroke-width="0.8"/>
<text x="496.05" y="268.20" font-size="4.8" text-anchor="middle" fill="#000" font-weight="bold" stroke="#000" stroke-width="0.15">4</text>
<line x1="516.00" y1="260.50" x2="516.00" y2="262.50" stroke="#000" stroke-width="0.8"/>
<text x="516.00" y="268.20" font-size="4.8" text-anchor="middle" fill="#000" font-weight="bold" stroke="#000" stroke-width="0.15">5</text>
<text x="466.12" y="276.10" font-size="5.6" text-anchor="middle" fill="#000" font-weight="bold" stroke="#000" stroke-width="0.22">Days</text>
<text x="466.10" y="180.00" font-size="6.4" text-anchor="middle" fill="#000" font-weight="bold" stroke="#000" stroke-width="0.22">Bid</text>
<path d="M487.65 188.10 L489.95 188.10 L488.80 190.50 Z" fill="#fff" stroke="#000" stroke-width="0.75"/>
<circle cx="488.80" cy="198.10" r="1.1" fill="#000"/>
<text x="495.00" y="191.30" font-size="5.3" text-anchor="start" fill="#222" stroke="#222" stroke-width="0.16">3T3</text>
<text x="495.00" y="200.00" font-size="5.3" text-anchor="start" fill="#222" stroke="#222" stroke-width="0.16">CD40L</text>
<text x="408.30" y="224.80" font-size="5.2" text-anchor="middle" fill="#000" font-weight="bold" stroke="#000" stroke-width="0.1" transform="rotate(-90 408.30 224.80)">relative expression</text>
</g>
</g>
</svg>
</body></html>
